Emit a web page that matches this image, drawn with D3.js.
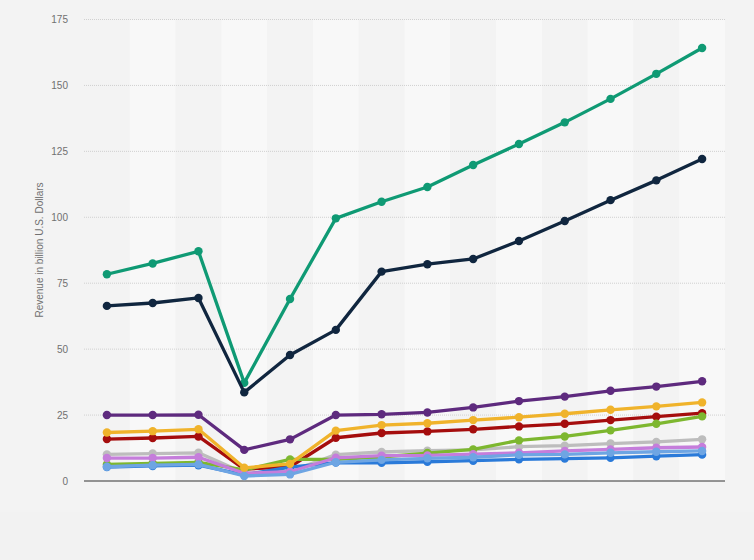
<!DOCTYPE html>
<html>
<head>
<meta charset="utf-8">
<script src="https://cdn.jsdelivr.net/npm/d3@7"></script>
<style>
  body { margin: 0; background: #f2f2f2; }
  svg { display: block; font-family: "Liberation Sans", Arial, sans-serif; }
</style>
</head>
<body>
<svg></svg>
<script>
// 14 yearly points, no labels shown on the x axis
const years = d3.range(1, 15);
const yTicks = [0, 25, 50, 75, 100, 125, 150, 175];

const teal      = [78.4, 82.5, 87.1, 37.2, 69.0, 99.6, 105.9, 111.5, 119.8, 127.8, 136.0, 144.9, 154.4, 164.2];
const navy      = [66.4, 67.5, 69.4, 33.6, 47.8, 57.3, 79.4, 82.2, 84.2, 91.0, 98.6, 106.5, 114.0, 122.1];
const purple    = [25.0, 25.0, 25.1, 11.8, 15.8, 25.0, 25.3, 26.0, 27.9, 30.3, 32.0, 34.2, 35.8, 37.8];
const red       = [15.9, 16.3, 16.9, 4.5, 5.4, 16.4, 18.2, 18.8, 19.6, 20.7, 21.7, 23.1, 24.4, 25.7];
const gray      = [10.1, 10.4, 10.7, 3.0, 3.6, 10.0, 11.0, 11.5, 11.8, 13.0, 13.4, 14.2, 14.8, 15.8];
const lime      = [6.3, 6.7, 7.1, 4.2, 8.2, 8.2, 9.1, 10.6, 12.0, 15.4, 16.9, 19.2, 21.7, 24.5];
const blue      = [5.3, 5.7, 6.0, 2.3, 5.3, 7.0, 6.9, 7.3, 7.7, 8.2, 8.5, 8.8, 9.4, 10.0];
const pink      = [8.7, 8.7, 9.0, 2.9, 3.5, 8.8, 9.6, 9.7, 10.2, 10.7, 11.4, 12.0, 12.6, 12.9];
const yellow    = [18.4, 18.9, 19.6, 5.0, 6.5, 19.1, 21.2, 21.9, 23.1, 24.2, 25.5, 27.0, 28.3, 29.8];
const lightBlue = [5.4, 6.0, 6.3, 1.9, 2.5, 7.1, 8.0, 8.6, 9.0, 9.9, 10.1, 10.7, 11.1, 11.4];

const series = [
  {values: teal, color: "#0f9a74"},
  {values: navy, color: "#10263f"},
  {values: purple, color: "#5e2a7e"},
  {values: gray, color: "#bdbdbd"},
  {values: red, color: "#a50d0d"},
  {values: lime, color: "#7db72f"},
  {values: blue, color: "#2a7ad9"},
  {values: pink, color: "#c57ddb"},
  {values: yellow, color: "#f0b32b"},
  {values: lightBlue, color: "#6ea5e3"}
];

const W = 754, H = 560;
const margin = {top: 19.5, right: 29, bottom: 79, left: 84};
const width = W - margin.left - margin.right,
      height = H - margin.top - margin.bottom;

const svg = d3.select("svg").attr("width", W).attr("height", H);

svg.append("rect")
  .attr("width", W).attr("height", 512)
  .attr("fill", "#f3f3f3");

const g = svg.append("g")
  .attr("transform", "translate(" + margin.left + "," + margin.top + ")");

const x = d3.scaleBand().domain(years).range([0, width]);
const y = d3.scaleLinear().domain([0, 175]).range([height, 0]);

// alternating column bands
g.selectAll(".band")
  .data(years)
  .join("rect")
  .attr("class", "band")
  .attr("x", d => x(d))
  .attr("y", 0)
  .attr("width", x.bandwidth())
  .attr("height", height)
  .attr("fill", (d, i) => i % 2 ? "#f8f8f8" : "#f3f3f3");

// grid lines
g.selectAll(".grid")
  .data(yTicks.filter(t => t > 0))
  .join("line")
  .attr("class", "grid")
  .attr("x1", 0).attr("x2", width)
  .attr("y1", d => y(d)).attr("y2", d => y(d))
  .attr("stroke", "#d0d0d0")
  .attr("stroke-dasharray", "1,1");

const yAxis = g.append("g")
  .call(d3.axisLeft(y).tickValues(yTicks).tickSize(0).tickPadding(16));
yAxis.select(".domain").remove();
yAxis.selectAll("text")
  .attr("fill", "#707070")
  .style("font-size", "10px");

g.append("line")
  .attr("x1", 0).attr("x2", width)
  .attr("y1", height).attr("y2", height)
  .attr("stroke", "#333")
  .attr("stroke-width", 1.2);

svg.append("text")
  .attr("transform", "translate(43," + 250 + ") rotate(-90)")
  .attr("text-anchor", "middle")
  .attr("fill", "#707070")
  .style("font-size", "10px")
  .text("Revenue in billion U.S. Dollars");

const line = d3.line()
  .x((d, i) => x(years[i]) + x.bandwidth() / 2)
  .y(d => y(d));

series.forEach(s => {
  const sg = g.append("g");
  sg.append("path")
    .attr("d", line(s.values))
    .attr("fill", "none")
    .attr("stroke", s.color)
    .attr("stroke-width", 3.3)
    .attr("stroke-linejoin", "round");
  sg.selectAll("circle")
    .data(s.values)
    .join("circle")
    .attr("cx", (d, i) => x(years[i]) + x.bandwidth() / 2)
    .attr("cy", d => y(d))
    .attr("r", 4.2)
    .attr("fill", s.color);
});
</script>
</body>
</html>
